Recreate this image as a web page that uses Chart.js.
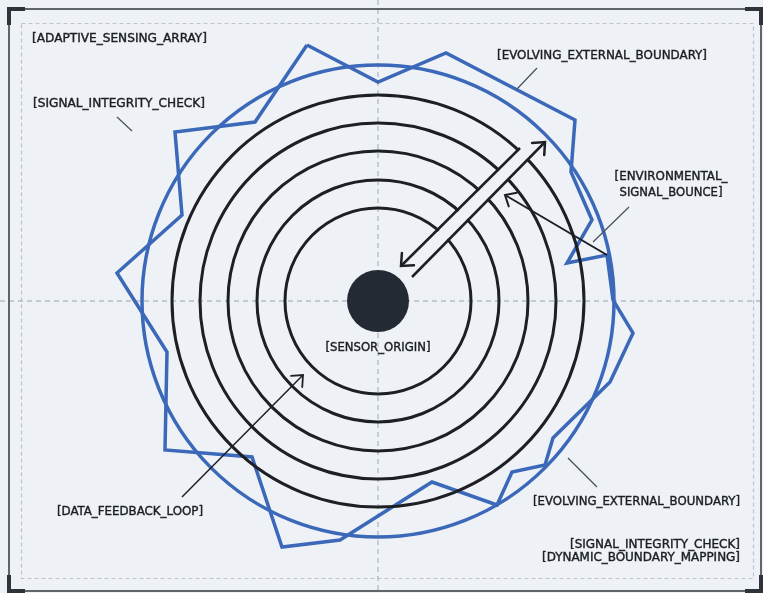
<!DOCTYPE html>
<html><head><meta charset="utf-8">
<script src="https://cdn.jsdelivr.net/npm/chart.js@4.4.0/dist/chart.umd.min.js"></script>
<style>html,body{margin:0;padding:0;background:#eef2f6;}canvas{display:block;}</style>
</head><body>
<canvas id="c" width="763" height="593"></canvas>
<script>
// ---- data (units: diagram units, origin = sensor centre, y up) ----
const ringRadii = [93, 121, 150, 178, 206];
const outerCircleRadius = [236];
const originRadius = [31];
const boundaryX = [-71, 0, 68, 197, 193, 214, 189, 229, 235, 255, 232, 175, 167, 134, 119, 54, -38, -96, -126, -213, -211, -261, -196, -203, -123];
const boundaryY = [256, 219, 248, 181, 129, 81, 38, 46, 1, -32, -81, -137, -164, -171, -204, -181, -239, -246, -156, -149, -51, 28, 86, 169, 179];
const arrowOutX = [34, 167], arrowOutY = [24, 159];
const arrowInX = [142, 23], arrowInY = [153, 35];
const bandX = [28, 150], bandY = [29, 151];
const bounceX = [229, 127], bounceY = [46, 106];
const feedbackX = [-196, -75], feedbackY = [-196, -74];
const labelTexts = ['[ADAPTIVE_SENSING_ARRAY]', '[SIGNAL_INTEGRITY_CHECK]', '[EVOLVING_EXTERNAL_BOUNDARY]', '[ENVIRONMENTAL_', 'SIGNAL_BOUNCE]', '[SENSOR_ORIGIN]', '[DATA_FEEDBACK_LOOP]', '[EVOLVING_EXTERNAL_BOUNDARY]', '[SIGNAL_INTEGRITY_CHECK]', '[DYNAMIC_BOUNDARY_MAPPING]'];

// ---- layout / style ----
const labelLayout = [
  {x:-346, y:262, align:'left', w:175},
  {x:-345, y:197, align:'left', w:172},
  {x:119, y:245, align:'left', w:210},
  {x:293, y:124, align:'center', w:113},
  {x:293, y:108, align:'center', w:103},
  {x:0, y:-47, align:'center', w:105},
  {x:-321, y:-211, align:'left', w:146},
  {x:362, y:-201, align:'right', w:207},
  {x:362, y:-244, align:'right', w:170},
  {x:362, y:-257, align:'right', w:198}
];
const leaders = [
  [-261,184,-246,170], [159,233,139,212], [251,94,215,59], [190,-157,219,-186]
];
const BLUE = '#3b68b8', INK = '#1c1f24', BG = '#eef2f6';

function pr(chart, r){ const s = chart.scales.x; return Math.abs(s.getPixelForValue(r) - s.getPixelForValue(0)); }
function pts(xs, ys){ return xs.map((x,i)=>({x, y:ys[i]})); }

const boundaryPts = pts(boundaryX, boundaryY); boundaryPts.push(boundaryPts[0]);

const datasets = [
  {label:'origin', data:[{x:0,y:0}], pointRadius:c=>pr(c.chart, originRadius[0]), pointBackgroundColor:'#232a34', pointBorderWidth:0, order:1},
  {label:'outer', data:[{x:0,y:0}], pointRadius:c=>pr(c.chart, outerCircleRadius[0]), pointBackgroundColor:'rgba(0,0,0,0)', pointBorderColor:BLUE, pointBorderWidth:3.5, order:10},
  {label:'boundary', data:boundaryPts, showLine:true, borderColor:BLUE, borderWidth:3.5, pointRadius:0, borderJoinStyle:'miter', tension:0, order:9},
  {label:'rings', data:ringRadii.map(()=>({x:0,y:0})), pointRadius:c=>pr(c.chart, ringRadii[c.dataIndex]), pointBackgroundColor:'rgba(0,0,0,0)', pointBorderColor:INK, pointBorderWidth:3, order:8},
  {label:'band', data:pts(bandX, bandY), showLine:true, borderColor:BG, borderWidth:12, borderCapStyle:'butt', pointRadius:0, order:7},
  {label:'out', data:pts(arrowOutX, arrowOutY), showLine:true, borderColor:INK, borderWidth:2.5, pointRadius:0, order:5, arrow:{len:13, w:2.5}},
  {label:'in', data:pts(arrowInX, arrowInY), showLine:true, borderColor:INK, borderWidth:2.5, pointRadius:0, order:5, arrow:{len:13, w:2.5}},
  {label:'bounce', data:pts(bounceX, bounceY), showLine:true, borderColor:INK, borderWidth:2, pointRadius:0, order:5, arrow:{len:12, w:2}},
  {label:'feedback', data:pts(feedbackX, feedbackY), showLine:true, borderColor:INK, borderWidth:1.5, pointRadius:0, order:5, arrow:{len:12, w:1.8}}
];

const bgPlugin = {
  id:'bg',
  beforeDraw(chart){
    const ctx = chart.ctx, W = chart.width, H = chart.height;
    ctx.save(); ctx.fillStyle = BG; ctx.fillRect(0,0,W,H); ctx.restore();
  },
  beforeDatasetsDraw(chart){
    const ctx = chart.ctx, W = chart.width, H = chart.height;
    const cx = chart.scales.x.getPixelForValue(0), cy = chart.scales.y.getPixelForValue(0);
    ctx.save();
    ctx.strokeStyle = '#b7bcc3'; ctx.lineWidth = 1.4; ctx.setLineDash([5,4]);
    ctx.beginPath(); ctx.moveTo(cx,0); ctx.lineTo(cx,H); ctx.moveTo(0,cy); ctx.lineTo(W,cy); ctx.stroke();
    ctx.strokeStyle = '#bfc4ca'; ctx.lineWidth = 1.2; ctx.setLineDash([4,3]);
    ctx.strokeRect(21.5, 23.5, 732, 555);
    ctx.setLineDash([]);
    ctx.strokeStyle = '#3b4148'; ctx.lineWidth = 1.6;
    ctx.strokeRect(9, 9, 752, 582);
    ctx.lineWidth = 4; ctx.strokeStyle = '#2f343a';
    const L = 16;
    const corners = [[9,9,1,1],[761,9,-1,1],[9,591,1,-1],[761,591,-1,-1]];
    corners.forEach(([x,y,dx,dy])=>{ ctx.beginPath(); ctx.moveTo(x+dx*L,y); ctx.lineTo(x,y); ctx.lineTo(x,y+dy*L); ctx.stroke(); });
    ctx.restore();
  },
  afterDatasetsDraw(chart){
    const ctx = chart.ctx;
    ctx.save();
    chart.data.datasets.forEach((d,i)=>{
      if(!d.arrow) return;
      const m = chart.getDatasetMeta(i).data;
      const a = m[m.length-2], b = m[m.length-1];
      const ang = Math.atan2(b.y-a.y, b.x-a.x), h = 0.72;
      ctx.strokeStyle = d.borderColor; ctx.lineWidth = d.arrow.w; ctx.lineCap = 'round'; ctx.lineJoin = 'miter';
      ctx.beginPath();
      ctx.moveTo(b.x - d.arrow.len*Math.cos(ang-h), b.y - d.arrow.len*Math.sin(ang-h));
      ctx.lineTo(b.x, b.y);
      ctx.lineTo(b.x - d.arrow.len*Math.cos(ang+h), b.y - d.arrow.len*Math.sin(ang+h));
      ctx.stroke();
    });
    ctx.restore();
  },
  afterDraw(chart){
    const ctx = chart.ctx, xs = chart.scales.x, ys = chart.scales.y;
    ctx.save();
    ctx.strokeStyle = '#4a4f56'; ctx.lineWidth = 1.2;
    leaders.forEach(l=>{ ctx.beginPath(); ctx.moveTo(xs.getPixelForValue(l[0]), ys.getPixelForValue(l[1])); ctx.lineTo(xs.getPixelForValue(l[2]), ys.getPixelForValue(l[3])); ctx.stroke(); });
    ctx.font = "13px 'DejaVu Sans Condensed', 'Liberation Sans Narrow', 'DejaVu Sans', sans-serif";
    ctx.fillStyle = '#1b1e23'; ctx.strokeStyle = '#1b1e23'; ctx.lineWidth = 0.4;
    ctx.textBaseline = 'middle'; ctx.textAlign = 'left';
    labelTexts.forEach((t,i)=>{
      const L = labelLayout[i];
      const w0 = ctx.measureText(t).width;
      const s = Math.max(0.7, Math.min(1.2, L.w / w0));
      const px = xs.getPixelForValue(L.x), py = ys.getPixelForValue(L.y);
      const w = w0*s;
      const left = L.align==='left' ? px : L.align==='right' ? px - w : px - w/2;
      ctx.save(); ctx.translate(left, py); ctx.scale(s,1); ctx.fillText(t,0,0); ctx.strokeText(t,0,0); ctx.restore();
    });
    ctx.restore();
  }
};

new Chart(document.getElementById('c'), {
  type:'scatter',
  data:{datasets},
  options:{
    responsive:false, animation:false, events:[], devicePixelRatio:1,
    layout:{padding:0},
    plugins:{legend:{display:false}, tooltip:{enabled:false}},
    scales:{
      x:{type:'linear', min:-378, max:385, display:false},
      y:{type:'linear', min:-292, max:301, display:false}
    }
  },
  plugins:[bgPlugin]
});
</script>
</body></html>
